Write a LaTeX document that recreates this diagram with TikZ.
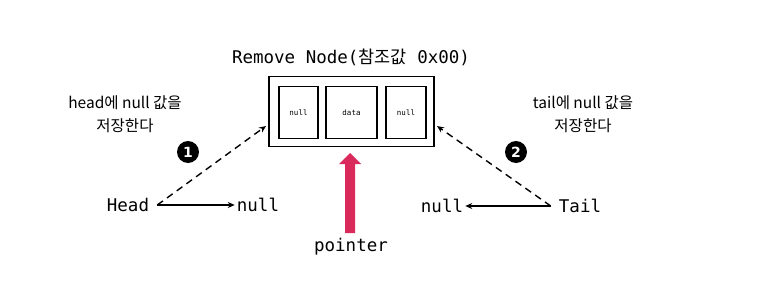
\documentclass[tikz,border=0pt]{standalone}
\usepackage{fontspec}
\setmonofont{DejaVu Sans Mono}
\newfontfamily\kr{Noto Sans CJK KR}
\newfontfamily\dvs{DejaVu Sans}
\usetikzlibrary{arrows.meta,calc}
\definecolor{ptr}{HTML}{D92A5B}
\begin{document}
\begin{tikzpicture}[x=1pt,y=-1pt,
 mono/.style={font=\fontsize{17.5}{20}\selectfont\ttfamily, inner sep=0pt},
 lbl/.style={font=\fontsize{15.5}{23}\selectfont\kr, align=center, inner sep=0pt},
 cell/.style={draw, line width=1.4pt, minimum height=52pt, font=\fontsize{7.5}{9}\selectfont\ttfamily, inner sep=0pt},
 conn/.style={line width=1.4pt, -{Stealth[length=7pt,width=6pt]}},
 dconn/.style={conn, dash pattern=on 7pt off 5pt},
 badge/.style={circle, fill=black, text=white, minimum size=22pt, inner sep=0pt, font=\fontsize{14}{14}\selectfont\dvs\bfseries}]
\useasboundingbox (0,0) rectangle (764,300);
\node[mono] (title) at (351,57) {Remove Node({\kr 참조값} 0x00)};
\node[draw, line width=1.7pt, minimum width=165pt, minimum height=70pt] (outer) at (351.5,111.5) {};
\node[cell, minimum width=39pt] (c1) at (298.5,112.5) {null};
\node[cell, minimum width=51pt] (c2) at (351.5,112.5) {data};
\node[cell, minimum width=40pt] (c3) at (406,112.5) {null};
% pointer arrow
\coordinate (ptip) at (350,153);
\node[mono] (pointer) at (351,247) {pointer};
\fill[ptr] (ptip) -- (361,164) -- (355,164) -- (355,233) -- (345,233) -- (345,164) -- (339,164) -- cycle;
% head side
\node[lbl] (hlbl) at (125,114) {head에 null 값을\\저장한다};
\node[mono] (head) at (128,205) {Head};
\node[mono] (hnull) at (258,205) {null};
\node[badge] (b1) at (188,152) {1};
\coordinate (hin) at (266,126);
\draw[conn] ([xshift=8pt]head.east) -- ([xshift=-2pt]hnull.west);
\draw[dconn] ([xshift=8pt]head.east) -- (hin);
% tail side
\node[lbl] (tlbl) at (583,114) {tail에 null 값을\\저장한다};
\node[mono] (tail) at (580,206) {Tail};
\node[mono] (tnull) at (442,206) {null};
\node[badge] (b2) at (516,152) {2};
\coordinate (tin) at (437,126);
\draw[conn] ([xshift=-8pt]tail.west) -- ([xshift=2pt]tnull.east);
\draw[dconn] ([xshift=-8pt]tail.west) -- (tin);
\end{tikzpicture}
\end{document}
